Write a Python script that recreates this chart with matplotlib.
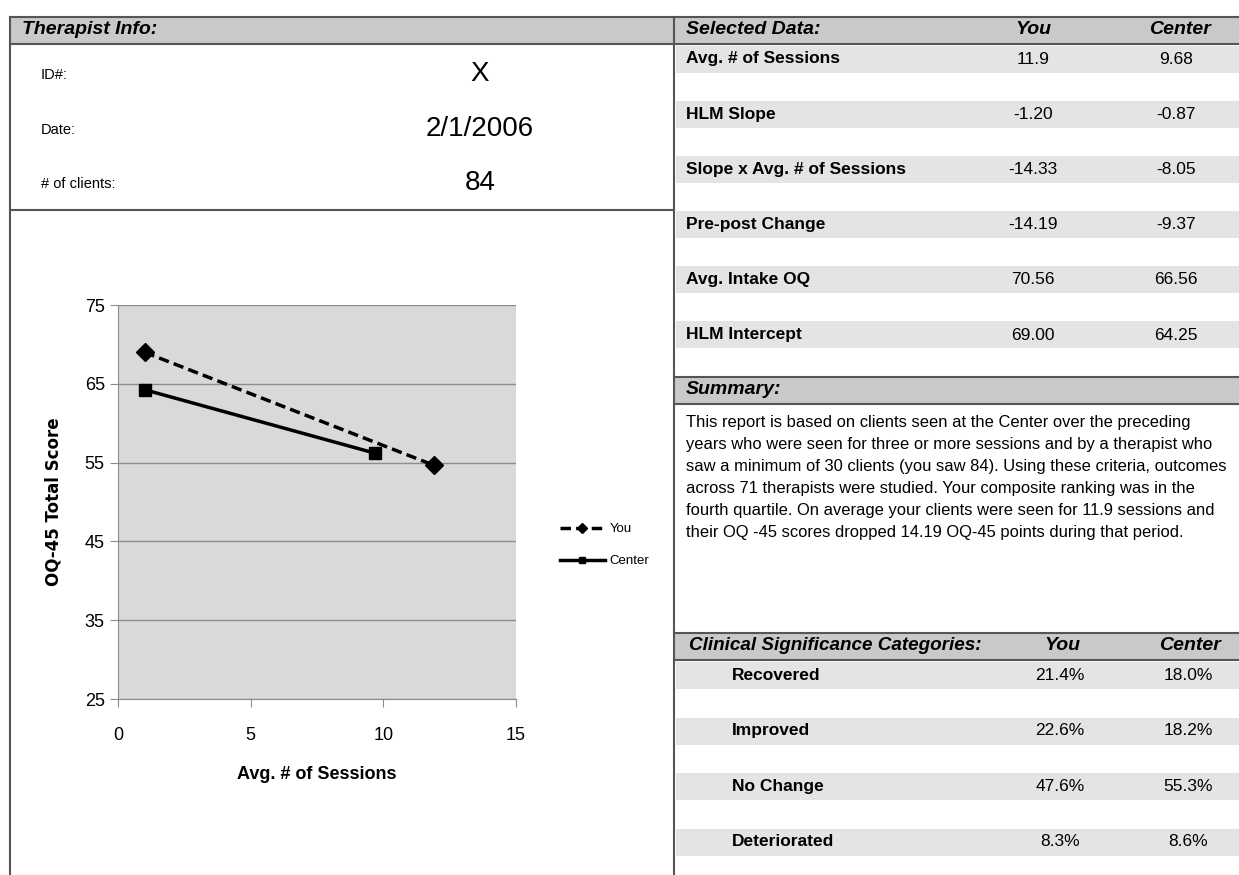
import matplotlib
matplotlib.use("Agg")
import matplotlib.pyplot as plt
from matplotlib import font_manager as fm
from matplotlib.patches import Rectangle

# report data
therapist_id = "X"
report_date = "2/1/2006"
n_clients = "84"

sel_labels = ["Avg. # of Sessions", "HLM Slope", "Slope x Avg. # of Sessions",
              "Pre-post Change", "Avg. Intake OQ", "HLM Intercept"]
sel_you = ["11.9", "-1.20", "-14.33", "-14.19", "70.56", "69.00"]
sel_center = ["9.68", "-0.87", "-8.05", "-9.37", "66.56", "64.25"]

cs_labels = ["Recovered", "Improved", "No Change", "Deteriorated"]
cs_you = ["21.4%", "22.6%", "47.6%", "8.3%"]
cs_center = ["18.0%", "18.2%", "55.3%", "8.6%"]

summary_lines = [
    "This report is based on clients seen at the Center over the preceding",
    "years who were seen for three or more sessions and by a therapist who",
    "saw a minimum of 30 clients (you saw 84). Using these criteria, outcomes",
    "across 71 therapists were studied. Your composite ranking was in the",
    "fourth quartile. On average your clients were seen for 11.9 sessions and",
    "their OQ -45 scores dropped 14.19 OQ-45 points during that period.",
]

# chart series: (session, OQ-45 score)
you_x = [1, 11.9]
you_y = [69.00, 54.67]
center_x = [1, 9.68]
center_y = [64.25, 56.20]

names = {f.name for f in fm.fontManager.ttflist}
NARROW = "Liberation Sans Narrow" if "Liberation Sans Narrow" in names else "Liberation Sans"

W, H = 1239, 875
fig = plt.figure(figsize=(W / 100, H / 100), dpi=100)
bg = fig.add_axes([0, 0, 1, 1])
bg.set_xlim(0, W)
bg.set_ylim(H, 0)
bg.axis("off")

HEAD = "#c9c9c9"
ROW = "#e4e4e4"
EDGE = "#555555"

def band(x0, x1, y0, y1, color):
    bg.add_patch(Rectangle((x0, y0), x1 - x0, y1 - y0, facecolor=color, edgecolor="none"))

def hline(y, x0, x1, lw=1.5):
    bg.plot([x0, x1], [y, y], color=EDGE, lw=lw)

def vline(x, y0, y1, lw=1.5):
    bg.plot([x, x], [y0, y1], color=EDGE, lw=lw)

def txt(x, y, s, size, weight="normal", style="normal", ha="left", family=NARROW):
    bg.text(x, y, s, fontsize=size, fontweight=weight, fontstyle=style,
            ha=ha, va="center", family=family, color="black")

# header bands
band(10, 674, 17, 44, HEAD)
band(674, W, 17, 44, HEAD)
band(674, W, 377, 404, HEAD)
band(674, W, 633, 660, HEAD)

# shaded rows
for i in range(len(sel_labels)):
    y0 = 46 + i * 55
    band(676, W, y0, y0 + 27, ROW)
for i in range(len(cs_labels)):
    y0 = 662 + i * 55.5
    band(676, W, y0, y0 + 27, ROW)

# frame lines
hline(17, 10, W)
hline(44, 10, W)
hline(210, 10, 674)
hline(377, 674, W)
hline(404, 674, W)
hline(633, 674, W)
hline(660, 674, W)
vline(10, 17, H)
vline(674, 17, H)

# therapist info
txt(22, 30, "Therapist Info:", 14, "bold", "italic")
info_rows = [("ID#:", therapist_id), ("Date:", report_date), ("# of clients:", n_clients)]
for i, (lab, val) in enumerate(info_rows):
    y = 75 + i * 54.5
    txt(41, y, lab, 10.5)
    txt(480, y - 1, val, 20, ha="center")

# selected data table
txt(686, 30, "Selected Data:", 14, "bold", "italic")
txt(1033, 30, "You", 14, "bold", "italic", ha="center")
txt(1180, 30, "Center", 14, "bold", "italic", ha="center")
for i, lab in enumerate(sel_labels):
    y = 59 + i * 55.2
    txt(686, y, lab, 12.5, "bold")
    txt(1033, y, sel_you[i], 12.5, ha="center")
    txt(1176, y, sel_center[i], 12.5, ha="center")

# summary
txt(686, 390, "Summary:", 14, "bold", "italic")
for i, line in enumerate(summary_lines):
    txt(686, 423 + i * 22, line, 11.9)

# clinical significance table
txt(689, 646, "Clinical Significance Categories:", 13.6, "bold", "italic")
txt(1062, 646, "You", 14, "bold", "italic", ha="center")
txt(1190, 646, "Center", 14, "bold", "italic", ha="center")
for i, lab in enumerate(cs_labels):
    y = 675 + i * 55.6
    txt(732, y, lab, 12.5, "bold")
    txt(1060, y, cs_you[i], 12.5, ha="center")
    txt(1188, y, cs_center[i], 12.5, ha="center")

# line chart
ax = fig.add_axes([118 / W, 1 - 699 / H, 398 / W, 394 / H])
ax.set_facecolor("#d9d9d9")
ax.set_xlim(0, 15)
ax.set_ylim(25, 75)
ax.set_xticks([0, 5, 10, 15])
ax.set_yticks([25, 35, 45, 55, 65, 75])
ax.grid(axis="y", color="#8c8c8c", lw=1)
ax.set_axisbelow(True)
for s in ["top", "right"]:
    ax.spines[s].set_visible(False)
for s in ["left", "bottom"]:
    ax.spines[s].set_color("#8c8c8c")
ax.tick_params(colors="#8c8c8c", length=6, direction="out", labelcolor="black",
               labelsize=13)
ax.tick_params(axis="x", pad=14)
for lab in ax.get_xticklabels() + ax.get_yticklabels():
    lab.set_family(NARROW)

ax.plot(you_x, you_y, color="black", lw=2.5, ls=(0, (3, 1.5)), marker="D",
        ms=9, label="You", clip_on=False)
ax.plot(center_x, center_y, color="black", lw=2.5, marker="s", ms=8,
        label="Center", clip_on=False)

ax.set_xlabel("Avg. # of Sessions", fontsize=13, fontweight="bold", family=NARROW,
              labelpad=16)
ax.set_ylabel("OQ-45 Total Score", fontsize=12, fontweight="bold",
              family="DejaVu Sans", labelpad=16)

leg = ax.legend(loc="center left", bbox_to_anchor=(1.08, 0.39), frameon=False,
                prop={"family": NARROW, "size": 9.5}, handlelength=3.4,
                labelspacing=1.5, markerscale=0.6, handletextpad=0.4)

fig.savefig("out.png", dpi=100)
